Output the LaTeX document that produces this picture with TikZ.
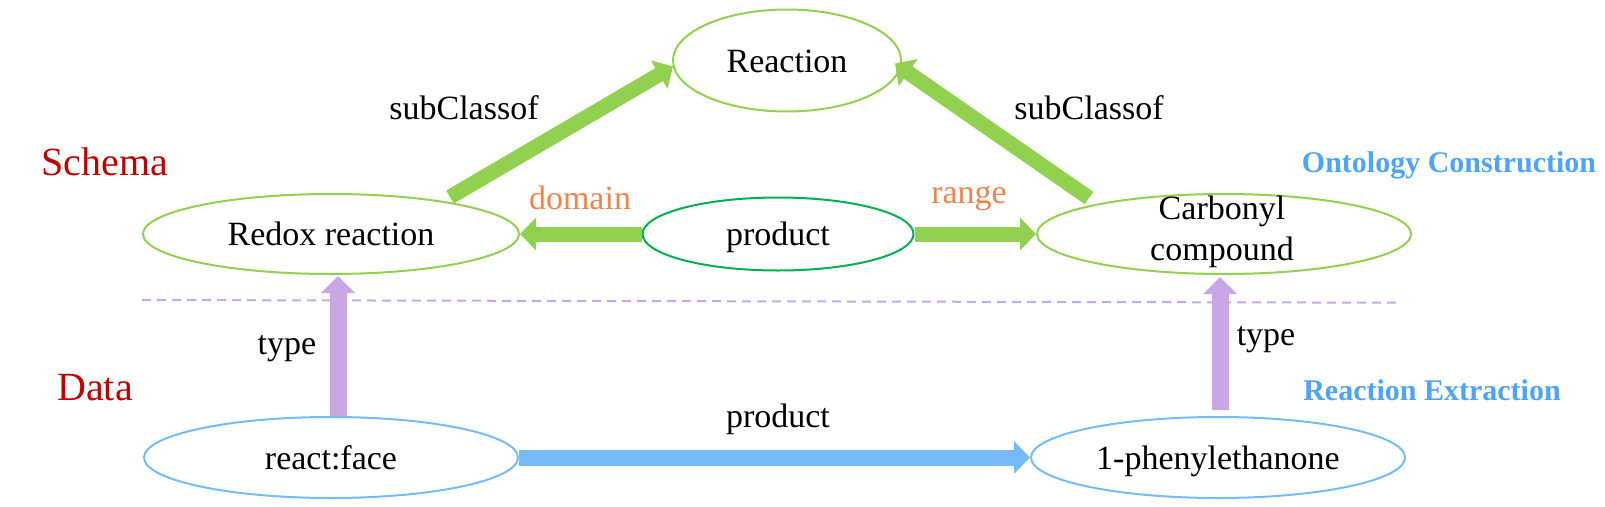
\documentclass[tikz,border=0pt]{standalone}
\usepackage{fontspec}
\setmainfont{Liberation Serif}
\usetikzlibrary{arrows.meta,shapes.geometric,calc}
\definecolor{lgreen}{HTML}{92D050}
\definecolor{dgreen}{HTML}{00B050}
\definecolor{lblue}{HTML}{75BBFA}
\definecolor{tblue}{HTML}{4EA4FA}
\definecolor{lpurple}{HTML}{C9A6E5}
\definecolor{lorange}{HTML}{F4824B}
\definecolor{dred}{HTML}{C00000}
\begin{document}
\begin{tikzpicture}[x=1pt,y=-1pt,
  ell/.style={draw, ellipse, line width=2pt, inner sep=0pt, text height=23pt, text depth=0pt, font=\fontsize{34}{41}\selectfont},
  txt/.style={inner sep=0pt, font=\fontsize{34}{41}\selectfont},
  side/.style={inner sep=0pt, text=dred, font=\fontsize{40}{48}\selectfont},
  phase/.style={inner sep=0pt, text=tblue, font=\fontsize{30}{36}\selectfont\bfseries},
  garrow/.style={draw=lgreen, line width=15pt, -{Triangle[length=16pt,width=32pt]}},
  parrow/.style={draw=lpurple, line width=17pt, -{Triangle[length=17pt,width=33pt]}},
  barrow/.style={draw=lblue, line width=16pt, -{Triangle[length=16pt,width=32pt]}},
  sepline/.style={draw=lpurple, line width=2pt, dash pattern=on 9pt off 6pt}]
\useasboundingbox (0,0) rectangle (1605,506);

% nodes
\node[ell, draw=lgreen, minimum width=228pt, minimum height=102pt] (reaction) at (787,60.5) {Reaction};
\node[ell, draw=lgreen, minimum width=376pt, minimum height=80pt] (redox) at (331,234) {Redox reaction};
\node[ell, draw=dgreen, minimum width=271pt, minimum height=73pt] (product) at (778,234) {product};
\node[ell, draw=lgreen, minimum width=374pt, minimum height=80pt] (carbonyl) at (1224,234) {};
\node[txt, align=center] (carbtext) at (1222,232) {Carbonyl\\compound};
\node[ell, draw=lblue, minimum width=374pt, minimum height=81pt] (react) at (331,457.5) {react:face};
\node[ell, draw=lblue, minimum width=374pt, minimum height=81pt] (phenyl) at (1218,457.5) {1-phenylethanone};

% separator
\draw[sepline] (142,300) -- (1402,302.7);

% connectors
\draw[garrow] ($(redox.center)+(119,-37)$) -- ($(reaction.west)+(1,6)$);
\draw[garrow] ($(carbonyl.center)+(-135,-36)$) -- ($(reaction.east)+(-7,3)$);
\draw[garrow] (product.west) -- (redox.east);
\draw[garrow] (product.east) -- (carbonyl.west);
\draw[parrow] ($(react.north)+(7,0)$) -- ($(redox.south)+(7,1)$);
\draw[parrow] ($(phenyl.north)+(2,-6)$) -- ($(carbonyl.south)+(-4,2)$);
\draw[barrow] (react.east) -- (phenyl.west);

% labels
\node[txt, anchor=base] (sub1) at (464,119) {subClassof};
\node[txt, anchor=base] (sub2) at (1089,119) {subClassof};
\node[txt, anchor=base, text=lorange] (dom) at (580,209) {domain};
\node[txt, anchor=base, text=lorange] (rng) at (969,203) {range};
\node[txt, anchor=base] (type1) at (287,354) {type};
\node[txt, anchor=base] (type2) at (1266,345) {type};
\node[txt, anchor=base] (prodlab) at (778,427) {product};

\node[side, anchor=base] (schema) at (105,175) {Schema};
\node[side, anchor=base] (data) at (95,400.5) {Data};
\node[phase, anchor=base] (onto) at (1449,172.5) {Ontology Construction};
\node[phase, anchor=base] (extr) at (1432,400) {Reaction Extraction};
\end{tikzpicture}
\end{document}
